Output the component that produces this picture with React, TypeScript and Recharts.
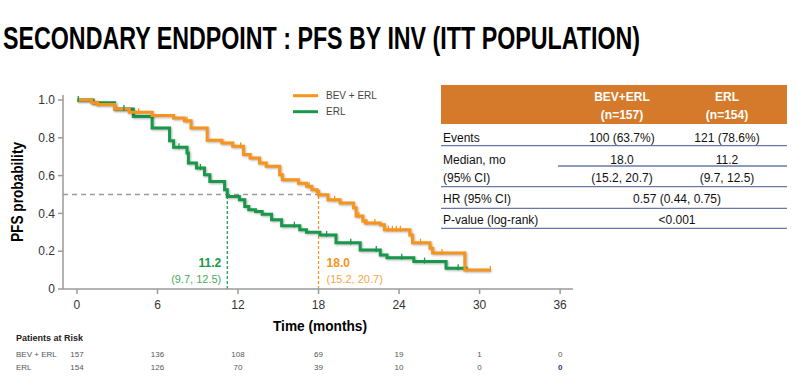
import React from "react";
import { LineChart, Line, XAxis, YAxis, ReferenceLine } from "recharts";

// ---------- data ----------
const monthTicks = [0, 6, 12, 18, 24, 30, 36];
const probTicks = [0, 0.2, 0.4, 0.6, 0.8, 1.0];

const riskBevErl = [157, 136, 108, 69, 19, 1, 0];
const riskErl = [154, 126, 70, 39, 10, 0, 0];

const bevErlTime = [0, 1.1, 1.5, 2.8, 3.9, 5.6, 7.2, 8.0, 8.5, 9.7, 10.8, 11.6, 12.4, 12.9, 13.6, 14.1, 15.1, 15.3, 16.5, 17.1, 17.5, 17.9, 18.0, 18.7, 19.6, 20.6, 20.8, 21.3, 21.5, 22.6, 22.9, 24.8, 25.0, 26.3, 26.5, 28.9, 30.8];
const bevErlSurv = [1.0, 0.985, 0.976, 0.952, 0.935, 0.918, 0.905, 0.89, 0.852, 0.787, 0.773, 0.755, 0.711, 0.693, 0.667, 0.649, 0.605, 0.578, 0.56, 0.543, 0.525, 0.516, 0.499, 0.472, 0.455, 0.43, 0.386, 0.36, 0.349, 0.34, 0.313, 0.286, 0.245, 0.216, 0.19, 0.1, 0.1];

const erlTime = [0, 1.2, 2.8, 4.2, 5.6, 6.9, 7.2, 8.2, 8.3, 8.9, 9.5, 9.9, 11.0, 11.2, 12.1, 12.5, 12.8, 13.3, 13.8, 14.5, 15.25, 16.6, 17.1, 18.1, 19.3, 21.1, 22.6, 23.1, 25.1, 27.5, 29.1];
const erlSurv = [1.0, 0.985, 0.952, 0.913, 0.852, 0.785, 0.75, 0.72, 0.667, 0.64, 0.605, 0.569, 0.525, 0.49, 0.472, 0.437, 0.419, 0.41, 0.395, 0.366, 0.335, 0.313, 0.3, 0.286, 0.245, 0.207, 0.18, 0.165, 0.145, 0.11, 0.11];

const bevErlCensorTimes = [1.6, 4.6, 8.2, 12.2, 17.3, 19.2, 21.0, 21.6, 22.2, 23.2, 23.5, 23.8, 24.1, 25.6, 27.2, 30.8];
const erlCensorTimes = [0.1, 3.5, 7.6, 9.2, 16.2, 18.6, 20.4, 22.3, 24.2, 25.9, 28.4];

const medianBevErl = 18.0;
const medianErl = 11.2;
const medianBevErlLabel = "18.0";
const medianErlLabel = "11.2";
const ciBevErl = "(15.2, 20.7)";
const ciErl = "(9.7, 12.5)";

const armNames = ["BEV+ERL", "ERL"];
const armN = ["(n=157)", "(n=154)"];
const legendNames = ["BEV + ERL", "ERL"];
const eventsRow = ["100 (63.7%)", "121 (78.6%)"];
const medianRow = ["18.0", "11.2"];
const ciRow = ["(15.2, 20.7)", "(9.7, 12.5)"];
const hrValue = "0.57 (0.44, 0.75)";
const pValue = "<0.001";

// ---------- helpers ----------
const ORANGE = "#f7941d";
const GREEN = "#17984a";
const AXIS = "#9a9a9a";
const SANS = "'Liberation Sans', Arial, sans-serif";
const NARROW = "'Liberation Sans Narrow', 'Arial Narrow', 'Liberation Sans', sans-serif";

const toData = (ts: number[], ss: number[]) => ts.map((t, i) => ({ t, s: ss[i] }));
const bevErlData = toData(bevErlTime, bevErlSurv);
const erlData = toData(erlTime, erlSurv);

const stepAt = (ts: number[], ss: number[], t: number) => {
  let v = ss[0];
  for (let i = 0; i < ts.length; i++) if (ts[i] <= t) v = ss[i];
  return v;
};
const bevErlCensor = bevErlCensorTimes.map((t) => ({ t, s: stepAt(bevErlTime, bevErlSurv, t) }));
const erlCensor = erlCensorTimes.map((t) => ({ t, s: stepAt(erlTime, erlSurv, t) }));

const CensorMark = (props: any) => {
  const { cx, cy, color } = props;
  if (cx == null || cy == null) return null;
  return <line x1={cx} x2={cx} y1={cy - 4} y2={cy + 2} stroke={color} strokeWidth={1.3} />;
};

const XTick = (props: any) => {
  const { x, y, payload, index } = props;
  return (
    <g>
      <text x={x} y={y} dy="0.71em" textAnchor="middle" fontSize={12} fill="#333" fontFamily={SANS}>
        {payload.value}
      </text>
      <text x={x} y={357} textAnchor="middle" fontSize={8} fill="#555" fontFamily={NARROW}>
        {riskBevErl[index]}
      </text>
      <text
        x={x}
        y={370}
        textAnchor="middle"
        fontSize={8}
        fill={index === monthTicks.length - 1 ? "#1b3b8c" : "#555"}
        fontWeight={index === monthTicks.length - 1 ? "bold" : "normal"}
        fontFamily={NARROW}
      >
        {riskErl[index]}
      </text>
    </g>
  );
};

const MedianLabel = (props: any) => {
  const { viewBox, value, ci, color, ciColor, side } = props;
  if (!viewBox) return null;
  const x = viewBox.x + (side === "left" ? -6 : 8);
  const anchor = side === "left" ? "end" : "start";
  return (
    <g>
      <text x={x} y={267} textAnchor={anchor} fontSize={12} fontWeight="bold" fill={color} fontFamily={SANS}>
        {value}
      </text>
      <text x={x} y={283} textAnchor={anchor} fontSize={11} fill={ciColor} fontFamily={NARROW}>
        {ci}
      </text>
    </g>
  );
};

export default function App() {
  const tableLeft = 441;
  const tableRight = 787;
  const col1 = 622;
  const col2 = 727;
  const colMid = 677;
  const rowLine = "#6b77a8";
  return (
    <div style={{ position: "relative", width: 798, height: 382, background: "#fff" }}>
      <style>{`body{margin:0;background:#fff} .km-line .recharts-line-curve{filter:drop-shadow(1px 1.5px 0.8px rgba(0,0,0,0.3));}`}</style>
      <LineChart
        width={798}
        height={382}
        margin={{ top: 95, right: 225, bottom: 63, left: 0 }}
      >
        <XAxis
          dataKey="t"
          type="number"
          domain={[-1.04, 36.96]}
          allowDataOverflow
          ticks={monthTicks}
          interval={0}
          height={30}
          stroke={AXIS}
          strokeWidth={1.5}
          tickSize={5}
          tickMargin={6}
          tick={<XTick />}
        />
        <YAxis
          type="number"
          domain={[0, 1]}
          ticks={probTicks}
          interval={0}
          width={63}
          padding={{ top: 5, bottom: 0 }}
          stroke={AXIS}
          strokeWidth={1.5}
          tickSize={5}
          tickMargin={3}
          tick={{ fontSize: 12, fill: "#333", fontFamily: SANS }}
          tickFormatter={(v: number) => (v === 0 ? "0" : v.toFixed(1))}
        />
        <ReferenceLine
          segment={[{ x: -1.04, y: 0.5 }, { x: medianBevErl, y: 0.5 }]}
          stroke="#9a9a9a"
          strokeWidth={1.4}
          strokeDasharray="5 4"
          ifOverflow="visible"
        />
        <ReferenceLine
          segment={[{ x: medianErl, y: 0 }, { x: medianErl, y: 0.5 }]}
          stroke={GREEN}
          strokeWidth={1.2}
          strokeDasharray="3 2"
          label={<MedianLabel value={medianErlLabel} ci={ciErl} color={GREEN} ciColor="#45ad5c" side="left" />}
        />
        <ReferenceLine
          segment={[{ x: medianBevErl, y: 0 }, { x: medianBevErl, y: 0.5 }]}
          stroke={ORANGE}
          strokeWidth={1.2}
          strokeDasharray="3 2"
          label={<MedianLabel value={medianBevErlLabel} ci={ciBevErl} color={ORANGE} ciColor="#f8a545" side="right" />}
        />
        <Line
          className="km-line"
          data={erlData}
          dataKey="s"
          type="stepAfter"
          stroke={GREEN}
          strokeWidth={3}
          dot={false}
          isAnimationActive={false}
        />
        <Line
          className="km-line"
          data={bevErlData}
          dataKey="s"
          type="stepAfter"
          stroke={ORANGE}
          strokeWidth={3}
          dot={false}
          isAnimationActive={false}
        />
        <Line
          data={erlCensor}
          dataKey="s"
          stroke="none"
          dot={<CensorMark color={GREEN} />}
          isAnimationActive={false}
        />
        <Line
          data={bevErlCensor}
          dataKey="s"
          stroke="none"
          dot={<CensorMark color={ORANGE} />}
          isAnimationActive={false}
        />
      </LineChart>

      <svg
        width={798}
        height={382}
        style={{ position: "absolute", left: 0, top: 0, pointerEvents: "none" }}
      >
        <text
          x={3}
          y={49}
          fontSize={31}
          fontWeight="bold"
          fill="#000"
          fontFamily={NARROW}
          textLength={637}
          lengthAdjust="spacingAndGlyphs"
        >
          SECONDARY ENDPOINT : PFS BY INV (ITT POPULATION)
        </text>

        <text
          transform="rotate(-90)"
          x={-192}
          y={23}
          textAnchor="middle"
          fontSize={16}
          fontWeight="bold"
          fill="#000"
          fontFamily={NARROW}
          textLength={100}
          lengthAdjust="spacingAndGlyphs"
        >
          PFS probability
        </text>

        <text
          x={320}
          y={331}
          textAnchor="middle"
          fontSize={15}
          fontWeight="bold"
          fill="#000"
          fontFamily={NARROW}
          textLength={94}
          lengthAdjust="spacingAndGlyphs"
        >
          Time (months)
        </text>

        {/* legend */}
        <line x1={293} x2={318} y1={95.7} y2={95.7} stroke={ORANGE} strokeWidth={3} />
        <text x={326} y={99.3} fontSize={10} fill="#444" fontFamily={NARROW}>{legendNames[0]}</text>
        <line x1={293} x2={318} y1={111.7} y2={111.7} stroke={GREEN} strokeWidth={3} />
        <text x={326} y={115.3} fontSize={10} fill="#444" fontFamily={NARROW}>{legendNames[1]}</text>

        {/* patients at risk */}
        <text x={16} y={341} fontSize={9} fontWeight="bold" fill="#222" fontFamily={NARROW}>Patients at Risk</text>
        <text x={16} y={357} fontSize={8} fill="#555" fontFamily={NARROW}>{legendNames[0]}</text>
        <text x={16} y={370} fontSize={8} fill="#555" fontFamily={NARROW}>{legendNames[1]}</text>

        {/* table */}
        <rect x={tableLeft} y={85} width={tableRight - tableLeft} height={39} fill="#d47a2a" />
        <text x={col1} y={101} textAnchor="middle" fontSize={12} fontWeight="bold" fill="#fff" fontFamily={SANS}>{armNames[0]}</text>
        <text x={col1} y={119} textAnchor="middle" fontSize={12} fontWeight="bold" fill="#fff" fontFamily={SANS}>{armN[0]}</text>
        <text x={col2} y={101} textAnchor="middle" fontSize={12} fontWeight="bold" fill="#fff" fontFamily={SANS}>{armNames[1]}</text>
        <text x={col2} y={119} textAnchor="middle" fontSize={12} fontWeight="bold" fill="#fff" fontFamily={SANS}>{armN[1]}</text>

        <g fontSize={12} fill="#111" fontFamily={SANS}>
          <text x={443} y={141.6}>Events</text>
          <text x={col1} y={141.6} textAnchor="middle">{eventsRow[0]}</text>
          <text x={col2} y={141.6} textAnchor="middle">{eventsRow[1]}</text>

          <text x={443} y={164.3}>Median, mo</text>
          <text x={col1} y={164.3} textAnchor="middle">{medianRow[0]}</text>
          <text x={col2} y={164.3} textAnchor="middle">{medianRow[1]}</text>

          <text x={443} y={181.6}>(95% CI)</text>
          <text x={col1} y={181.6} textAnchor="middle">{ciRow[0]}</text>
          <text x={col2} y={181.6} textAnchor="middle">{ciRow[1]}</text>

          <text x={443} y={202.6}>HR (95% CI)</text>
          <text x={colMid} y={202.6} textAnchor="middle">{hrValue}</text>

          <text x={443} y={223.6}>P-value (log-rank)</text>
          <text x={colMid} y={223.6} textAnchor="middle">{pValue}</text>
        </g>

        <line x1={tableLeft} x2={tableRight} y1={145.7} y2={145.7} stroke={rowLine} strokeWidth={1.3} />
        <line x1={558} x2={tableRight} y1={166} y2={166} stroke={rowLine} strokeWidth={1.3} />
        <line x1={tableLeft} x2={tableRight} y1={186.7} y2={186.7} stroke={rowLine} strokeWidth={1.3} />
        <line x1={tableLeft} x2={tableRight} y1={208.3} y2={208.3} stroke={rowLine} strokeWidth={1.3} />
        <line x1={tableLeft} x2={tableRight} y1={228.3} y2={228.3} stroke={rowLine} strokeWidth={1.3} />
      </svg>
    </div>
  );
}
